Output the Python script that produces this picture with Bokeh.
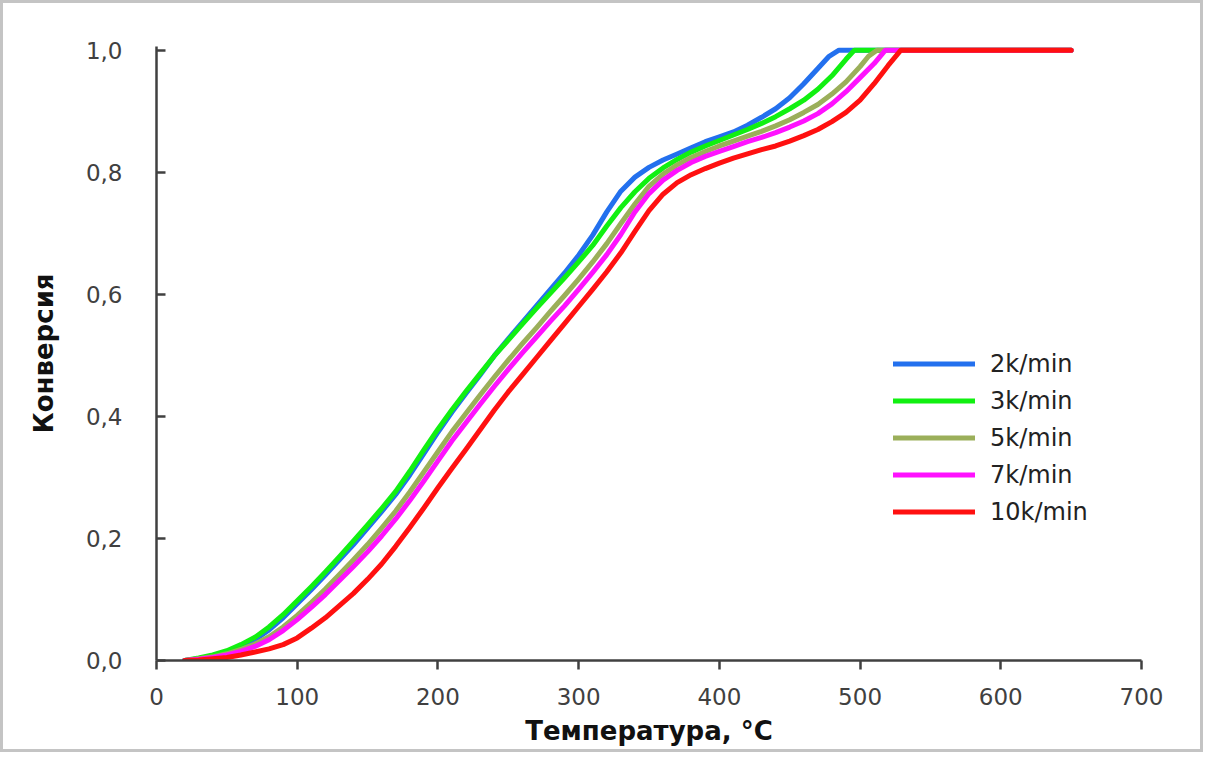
from bokeh.plotting import figure
from bokeh.models import FixedTicker, Range1d, Legend, LegendItem
from bokeh.embed import file_html
from bokeh.resources import INLINE

# ---- data ----
series_names = ["2k/min", "3k/min", "5k/min", "7k/min", "10k/min"]
series_colors = ["#2370EE", "#11F011", "#9BAF5A", "#FF11FF", "#FF1010"]

base_t = [20, 30, 40, 50, 60, 70, 80, 90, 100, 110, 120, 130, 140, 150, 160,
          170, 180, 190, 200, 210, 220, 230, 240, 250, 260, 270, 280, 290, 300,
          310, 320, 330, 340, 350, 360, 370, 380, 390, 400, 410, 420, 430, 440,
          450, 460, 470]

temp_2k = base_t + [478, 485, 650]
conv_2k = [0.0, 0.003, 0.008, 0.014, 0.023, 0.034, 0.050, 0.070, 0.093, 0.116,
           0.140, 0.165, 0.190, 0.217, 0.244, 0.272, 0.304, 0.339, 0.374, 0.407,
           0.438, 0.468, 0.499, 0.527, 0.554, 0.581, 0.608, 0.635, 0.664, 0.697,
           0.735, 0.769, 0.792, 0.808, 0.820, 0.830, 0.840, 0.850, 0.858, 0.866,
           0.877, 0.890, 0.904, 0.922, 0.945, 0.970, 0.990, 1.0, 1.0]

temp_3k = base_t + [480, 490, 496, 650]
conv_3k = [0.0, 0.004, 0.009, 0.016, 0.026, 0.038, 0.055, 0.075, 0.098, 0.121,
           0.145, 0.170, 0.196, 0.222, 0.249, 0.277, 0.310, 0.345, 0.379, 0.411,
           0.441, 0.470, 0.499, 0.525, 0.551, 0.577, 0.602, 0.627, 0.653, 0.680,
           0.712, 0.742, 0.768, 0.790, 0.807, 0.821, 0.833, 0.843, 0.852, 0.861,
           0.870, 0.880, 0.891, 0.904, 0.918, 0.936, 0.958, 0.985, 1.0, 1.0]

temp_5k = base_t + [480, 490, 500, 506, 512, 650]
conv_5k = [0.0, 0.003, 0.006, 0.011, 0.018, 0.027, 0.039, 0.055, 0.074, 0.095,
           0.117, 0.141, 0.165, 0.190, 0.217, 0.245, 0.276, 0.309, 0.342, 0.375,
           0.405, 0.435, 0.464, 0.492, 0.519, 0.545, 0.572, 0.598, 0.625, 0.653,
           0.683, 0.716, 0.748, 0.777, 0.797, 0.812, 0.824, 0.834, 0.843, 0.851,
           0.859, 0.867, 0.876, 0.886, 0.898, 0.911, 0.928, 0.948, 0.973, 0.990,
           1.0, 1.0]

temp_7k = base_t + [480, 490, 500, 510, 518, 650]
conv_7k = [0.0, 0.002, 0.005, 0.009, 0.015, 0.023, 0.034, 0.049, 0.067, 0.087,
           0.108, 0.131, 0.154, 0.178, 0.204, 0.232, 0.262, 0.294, 0.327, 0.360,
           0.390, 0.420, 0.449, 0.477, 0.504, 0.530, 0.556, 0.581, 0.608, 0.636,
           0.665, 0.698, 0.735, 0.765, 0.787, 0.803, 0.816, 0.826, 0.834, 0.842,
           0.850, 0.857, 0.865, 0.874, 0.884, 0.896, 0.912, 0.932, 0.955, 0.978,
           1.0, 1.0]

temp_10k = base_t + [480, 490, 500, 510, 520, 529, 650]
conv_10k = [0.0, 0.001, 0.003, 0.005, 0.009, 0.014, 0.019, 0.026, 0.037, 0.053,
            0.070, 0.090, 0.110, 0.133, 0.158, 0.187, 0.218, 0.250, 0.283, 0.315,
            0.346, 0.378, 0.410, 0.440, 0.468, 0.496, 0.524, 0.552, 0.580, 0.608,
            0.637, 0.668, 0.703, 0.737, 0.764, 0.783, 0.796, 0.806, 0.815, 0.823,
            0.830, 0.837, 0.843, 0.851, 0.860, 0.870, 0.883, 0.898, 0.918, 0.945,
            0.975, 1.0, 1.0]

all_t = [temp_2k, temp_3k, temp_5k, temp_7k, temp_10k]
all_c = [conv_2k, conv_3k, conv_5k, conv_7k, conv_10k]

x_ticks = [0, 100, 200, 300, 400, 500, 600, 700]
y_ticks = [0.0, 0.2, 0.4, 0.6, 0.8, 1.0]
y_tick_labels = ["0,0", "0,2", "0,4", "0,6", "0,8", "1,0"]

x_title = "Температура, °C"
y_title = "Конверсия"

# ---- figure ----
p = figure(width=1203, height=752, output_backend="svg", toolbar_location=None,
           x_range=Range1d(0, 700), y_range=Range1d(0, 1.006),
           min_border_left=153, min_border_right=65, min_border_top=43,
           min_border_bottom=95)
p.styles = {"border": "3px solid #c4c4c4", "box-sizing": "border-box"}
p.outline_line_color = None
p.xgrid.visible = False
p.ygrid.visible = False
p.background_fill_color = "white"
p.border_fill_color = "white"

FONT = "DejaVu Sans"
for ax in (p.xaxis[0], p.yaxis[0]):
    ax.axis_line_color = "#404040"
    ax.axis_line_width = 2.5
    ax.major_tick_line_color = "#404040"
    ax.major_tick_line_width = 2.5
    ax.minor_tick_line_color = None
    ax.major_label_text_font = FONT
    ax.major_label_text_font_size = "23px"
    ax.major_label_text_color = "#404040"
    ax.axis_label_text_font = FONT
    ax.axis_label_text_font_size = "26px"
    ax.axis_label_text_font_style = "bold"
    ax.axis_label_text_color = "#111111"

p.xaxis.ticker = FixedTicker(ticks=x_ticks)
p.xaxis.major_tick_in = 0
p.xaxis.major_tick_out = 9
p.xaxis.major_label_standoff = 18
p.xaxis.axis_label = x_title
p.xaxis.axis_label_standoff = 8

p.yaxis.ticker = FixedTicker(ticks=y_ticks)
p.yaxis.major_label_overrides = {t: l for t, l in zip(y_ticks, y_tick_labels)}
p.yaxis.major_tick_in = 9
p.yaxis.major_tick_out = 0
p.yaxis.major_label_standoff = 34
p.yaxis.axis_label = y_title
p.yaxis.axis_label_standoff = 24

items = []
for name, col, t, c in zip(series_names, series_colors, all_t, all_c):
    r = p.line(t, c, line_color=col, line_width=5, line_join="round",
               line_cap="round")
    items.append(LegendItem(label=name, renderers=[r]))

legend = Legend(items=items, location=(737, 130))
legend.glyph_width = 82
legend.glyph_height = 37
legend.label_height = 37
legend.spacing = 0
legend.padding = 0
legend.margin = 0
legend.label_standoff = 15
legend.label_text_font = FONT
legend.label_text_font_size = "24px"
legend.label_text_color = "#222222"
legend.border_line_alpha = 0
legend.background_fill_alpha = 0
p.add_layout(legend, "center")

open("out.html", "w").write(file_html(p, INLINE))
